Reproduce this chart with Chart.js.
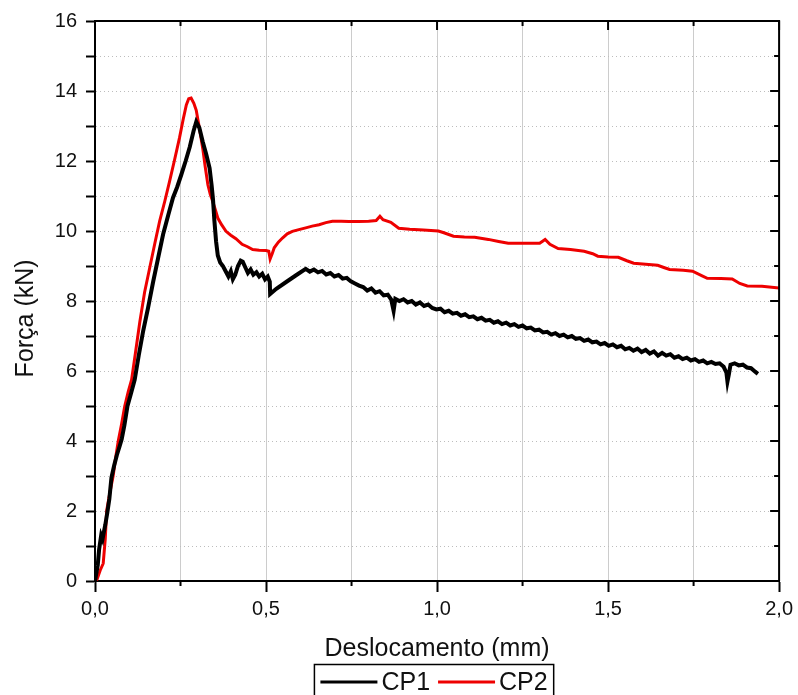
<!DOCTYPE html>
<html>
<head>
<meta charset="utf-8">
<script src="https://cdn.jsdelivr.net/npm/chart.js@4.4.1/dist/chart.umd.min.js"></script>
<style>
    body { margin: 0; background: #fff; }
    #wrap { width: 798px; height: 695px; position: relative; }
</style>
</head>
<body>
<div id="wrap"><canvas id="forceChart"></canvas></div>
<script>
// displacement (mm) / force (kN)
const cp1X = [0.000, 0.008, 0.012, 0.018, 0.022, 0.030, 0.036, 0.042, 0.048, 0.056, 0.064, 0.072, 0.078, 0.086, 0.095,
    0.105, 0.116, 0.128, 0.141, 0.155, 0.170, 0.185, 0.199, 0.214, 0.228, 0.240, 0.252, 0.265, 0.277, 0.288, 0.296,
    0.305, 0.315, 0.325, 0.335, 0.341, 0.345, 0.349, 0.354, 0.359, 0.366, 0.374, 0.382, 0.390, 0.397, 0.403, 0.410,
    0.418, 0.426, 0.432, 0.440, 0.447, 0.455, 0.463, 0.472, 0.480, 0.489, 0.497, 0.505, 0.511, 0.512, 0.530, 0.560,
    0.590, 0.616, 0.628, 0.640, 0.652, 0.664, 0.676, 0.688, 0.700, 0.712, 0.724, 0.736, 0.748, 0.760, 0.772, 0.784,
    0.796, 0.808, 0.820, 0.832, 0.844, 0.856, 0.866, 0.873, 0.878, 0.890, 0.902, 0.914, 0.926, 0.938, 0.950, 0.962,
    0.974, 0.986, 0.998, 1.010, 1.022, 1.034, 1.046, 1.058, 1.070, 1.082, 1.094, 1.106, 1.118, 1.130, 1.142, 1.154,
    1.166, 1.178, 1.190, 1.202, 1.214, 1.226, 1.238, 1.250, 1.262, 1.274, 1.286, 1.298, 1.310, 1.322, 1.334, 1.346,
    1.358, 1.370, 1.382, 1.394, 1.406, 1.418, 1.430, 1.442, 1.454, 1.466, 1.478, 1.490, 1.502, 1.514, 1.526, 1.538,
    1.550, 1.562, 1.574, 1.586, 1.598, 1.610, 1.622, 1.634, 1.646, 1.658, 1.670, 1.682, 1.694, 1.706, 1.718, 1.730,
    1.742, 1.754, 1.766, 1.778, 1.790, 1.802, 1.814, 1.826, 1.838, 1.846, 1.849, 1.853, 1.858, 1.870, 1.882, 1.894,
    1.906, 1.918, 1.930, 1.938];
const cp1Y = [0.00, 0.45, 0.90, 1.30, 1.20, 1.60, 1.95, 2.35, 2.95, 3.30, 3.60, 3.85, 4.05, 4.45, 5.00,
    5.35, 5.75, 6.45, 7.15, 7.80, 8.55, 9.25, 9.90, 10.45, 10.95, 11.25, 11.60, 12.00, 12.40, 12.85, 13.12,
    12.95, 12.55, 12.20, 11.80, 11.30, 10.90, 10.30, 9.70, 9.30, 9.10, 9.00, 8.85, 8.70, 8.85, 8.62, 8.75,
    9.00, 9.15, 9.12, 8.95, 8.80, 8.90, 8.75, 8.82, 8.70, 8.78, 8.62, 8.70, 8.55, 8.20, 8.35, 8.55,
    8.75, 8.92, 8.84, 8.90, 8.82, 8.86, 8.76, 8.80, 8.70, 8.74, 8.64, 8.66, 8.56, 8.50, 8.44, 8.40,
    8.30, 8.36, 8.24, 8.28, 8.16, 8.18, 8.04, 7.72, 8.06, 8.00, 8.05, 7.96, 8.00, 7.90, 7.96, 7.86,
    7.90, 7.80, 7.76, 7.78, 7.68, 7.72, 7.64, 7.66, 7.58, 7.62, 7.54, 7.56, 7.48, 7.52, 7.44, 7.46,
    7.38, 7.42, 7.34, 7.38, 7.30, 7.34, 7.26, 7.30, 7.22, 7.24, 7.16, 7.18, 7.10, 7.12, 7.04, 7.08,
    7.00, 7.04, 6.96, 7.00, 6.92, 6.94, 6.86, 6.90, 6.82, 6.84, 6.76, 6.80, 6.72, 6.76, 6.68, 6.72,
    6.62, 6.66, 6.58, 6.64, 6.54, 6.60, 6.50, 6.56, 6.44, 6.52, 6.44, 6.48, 6.38, 6.42, 6.34, 6.38,
    6.30, 6.34, 6.26, 6.30, 6.22, 6.26, 6.20, 6.22, 6.12, 5.95, 5.70, 5.90, 6.18, 6.22, 6.16, 6.18,
    6.10, 6.08, 5.98, 5.92];

const cp2X = [0.000, 0.006, 0.015, 0.024, 0.030, 0.034, 0.043, 0.053, 0.060, 0.068, 0.078, 0.087, 0.097, 0.107,
    0.118, 0.131, 0.145, 0.160, 0.175, 0.189, 0.204, 0.218, 0.233, 0.247, 0.258, 0.267, 0.274, 0.281, 0.289,
    0.296, 0.305, 0.315, 0.322, 0.330, 0.337, 0.344, 0.352, 0.359, 0.370, 0.383, 0.397, 0.412, 0.430, 0.446,
    0.461, 0.480, 0.500, 0.508, 0.512, 0.518, 0.524, 0.536, 0.548, 0.562, 0.577, 0.596, 0.616, 0.635, 0.655,
    0.675, 0.694, 0.720, 0.742, 0.770, 0.800, 0.822, 0.833, 0.842, 0.865, 0.888, 0.920, 0.960, 1.004, 1.020,
    1.048, 1.080, 1.110, 1.150, 1.180, 1.208, 1.250, 1.300, 1.316, 1.330, 1.354, 1.390, 1.430, 1.455, 1.470,
    1.500, 1.530, 1.555, 1.575, 1.610, 1.645, 1.665, 1.680, 1.720, 1.747, 1.775, 1.790, 1.830, 1.863, 1.885,
    1.907, 1.950, 2.000];
const cp2Y = [0.00, 0.05, 0.30, 0.50, 1.20, 2.00, 2.50, 3.00, 3.50, 4.00, 4.50, 5.00, 5.40, 5.75,
    6.50, 7.40, 8.25, 8.95, 9.65, 10.28, 10.85, 11.42, 12.05, 12.66, 13.20, 13.60, 13.78, 13.80, 13.65,
    13.45, 12.95, 12.36, 11.85, 11.32, 11.05, 10.85, 10.60, 10.37, 10.18, 9.99, 9.88, 9.78, 9.62, 9.55,
    9.47, 9.45, 9.44, 9.42, 9.20, 9.35, 9.52, 9.68, 9.80, 9.92, 9.99, 10.04, 10.09, 10.14, 10.18,
    10.24, 10.28, 10.28, 10.27, 10.27, 10.28, 10.30, 10.42, 10.32, 10.25, 10.08, 10.05, 10.03, 10.00, 9.95,
    9.85, 9.83, 9.82, 9.76, 9.70, 9.65, 9.65, 9.65, 9.76, 9.62, 9.50, 9.47, 9.42, 9.35, 9.28,
    9.26, 9.25, 9.15, 9.08, 9.05, 9.02, 8.95, 8.90, 8.88, 8.85, 8.72, 8.65, 8.64, 8.63, 8.50,
    8.43, 8.42, 8.37];

const seriesLabels = ['CP1', 'CP2'];
const seriesColors = ['#000000', '#ee0000'];

const textColor = '#111111';
const fontFamily = '"Liberation Sans", Arial, Helvetica, sans-serif';

function toPoints(xs, ys) {
    return xs.map((x, i) => ({ x: x, y: ys[i] }));
}

function isMajorX(v) {
    return Math.round(v * 4) % 2 === 0;
}

// top/right frame with inward ticks, and the short minor ticks under the x axis
const frameTicks = {
    id: 'frameTicks',
    afterDraw(chart) {
        const ctx = chart.ctx;
        const area = chart.chartArea;
        const xs = chart.scales.x;
        const ys = chart.scales.y;
        ctx.save();
        ctx.strokeStyle = '#000';
        ctx.lineWidth = 2;
        ctx.beginPath();
        ctx.moveTo(area.left, area.top);
        ctx.lineTo(area.right, area.top);
        ctx.lineTo(area.right, area.bottom);
        ctx.stroke();

        ctx.beginPath();
        xs.ticks.forEach(t => {
            const px = xs.getPixelForValue(t.value);
            const len = isMajorX(t.value) ? 9 : 5;
            ctx.moveTo(px, area.top);
            ctx.lineTo(px, area.top + len);
            if (!isMajorX(t.value)) {
                ctx.moveTo(px, area.bottom);
                ctx.lineTo(px, area.bottom + 5);
            }
        });
        ys.ticks.forEach(t => {
            const py = ys.getPixelForValue(t.value);
            const len = t.value % 2 === 0 ? 9 : 5;
            ctx.moveTo(area.right, py);
            ctx.lineTo(area.right - len, py);
        });
        ctx.stroke();
        ctx.restore();
    }
};

// boxed legend under the axis title
const boxedLegend = {
    id: 'boxedLegend',
    afterDraw(chart) {
        const ctx = chart.ctx;
        const area = chart.chartArea;
        const top = chart.scales.x.bottom;
        const lineLen = 57, gap = 4, spacing = 8, pad = 6;
        ctx.save();
        ctx.font = '25px ' + fontFamily;
        const items = chart.data.datasets.map(ds => ({
            label: ds.label, color: ds.borderColor, w: ctx.measureText(ds.label).width
        }));
        let total = pad * 2 + spacing * (items.length - 1);
        items.forEach(it => { total += lineLen + gap + it.w; });
        let x = (area.left + area.right) / 2 - 3 - total / 2;

        ctx.strokeStyle = '#000';
        ctx.lineWidth = 1.5;
        ctx.strokeRect(x, top + 0.5, total, chart.height - top + 10);

        const lineY = top + 18;
        x += pad;
        items.forEach(it => {
            ctx.strokeStyle = it.color;
            ctx.lineWidth = 3;
            ctx.beginPath();
            ctx.moveTo(x, lineY);
            ctx.lineTo(x + lineLen, lineY);
            ctx.stroke();
            x += lineLen + gap;
            ctx.fillStyle = textColor;
            ctx.textBaseline = 'alphabetic';
            ctx.fillText(it.label, x, top + 26);
            x += it.w + spacing;
        });
        ctx.restore();
    }
};

const ctx = document.getElementById('forceChart');

new Chart(ctx, {
    type: 'line',
    data: {
        datasets: [
            {
                label: seriesLabels[0],
                data: toPoints(cp1X, cp1Y),
                borderColor: seriesColors[0],
                borderWidth: 4,
                pointRadius: 0,
                tension: 0
            },
            {
                label: seriesLabels[1],
                data: toPoints(cp2X, cp2Y),
                borderColor: seriesColors[1],
                borderWidth: 3,
                pointRadius: 0,
                tension: 0
            }
        ]
    },
    options: {
        responsive: true,
        maintainAspectRatio: false,
        animation: false,
        events: [],
        layout: {
            padding: { top: 19, right: 16, bottom: 31, left: 0 }
        },
        plugins: {
            legend: { display: false },
            tooltip: { enabled: false }
        },
        scales: {
            x: {
                type: 'linear',
                min: 0,
                max: 2,
                ticks: {
                    stepSize: 0.25,
                    autoSkip: false,
                    maxRotation: 0,
                    padding: 5,
                    color: textColor,
                    font: { family: fontFamily, size: 20 },
                    callback: function(value) {
                        return isMajorX(value) ? value.toFixed(1).replace('.', ',') : '';
                    }
                },
                grid: {
                    color: '#cccccc',
                    lineWidth: 1,
                    tickLength: 11,
                    tickWidth: 2,
                    tickColor: function(c) {
                        return (c.tick && isMajorX(c.tick.value)) ? '#000' : 'rgba(0,0,0,0)';
                    }
                },
                border: { color: '#000', width: 2 },
                title: {
                    display: true,
                    text: 'Deslocamento (mm)',
                    color: textColor,
                    font: { family: fontFamily, size: 25 },
                    padding: { top: 0, bottom: 0 }
                },
                afterFit: function(scale) {
                    scale.height = 83;
                }
            },
            y: {
                min: 0,
                max: 16,
                ticks: {
                    stepSize: 1,
                    padding: 9,
                    color: textColor,
                    font: { family: fontFamily, size: 20 },
                    callback: function(value) {
                        return value % 2 === 0 ? String(value) : '';
                    }
                },
                grid: {
                    color: '#bdbdbd',
                    lineWidth: 1,
                    tickLength: 9,
                    tickWidth: 2,
                    tickColor: '#000',
                    tickBorderDash: []
                },
                border: { color: '#000', width: 2, dash: [1, 3] },
                title: {
                    display: true,
                    text: 'Força (kN)     ',
                    color: textColor,
                    font: { family: fontFamily, size: 25 },
                    padding: { top: 11, bottom: 0 }
                },
                afterFit: function(scale) {
                    scale.width = 95;
                }
            }
        }
    },
    plugins: [frameTicks, boxedLegend]
});
</script>
</body>
</html>
